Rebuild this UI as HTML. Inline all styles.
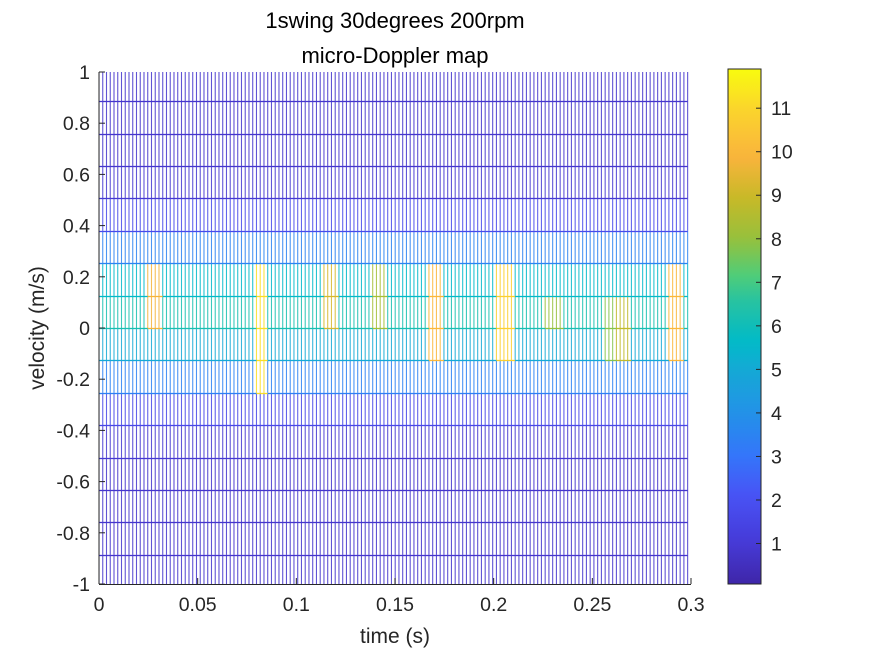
<!DOCTYPE html>
<html><head><meta charset="utf-8"><style>
html,body{margin:0;padding:0;background:#fff;}
svg{display:block;font-family:"Liberation Sans",Arial,sans-serif;}
</style></head><body>
<svg id="chart" width="875" height="656" viewBox="0 0 875 656">
<rect width="875" height="656" fill="#fff"/>
<text x="395" y="28" font-size="22" text-anchor="middle" fill="#000">1swing 30degrees 200rpm</text>
<text x="395" y="63" font-size="22" text-anchor="middle" fill="#000">micro-Doppler map</text>
<g id="mesh"></g>
<g id="axes"></g>
<g id="cbar"></g>
<text x="395" y="643" font-size="21" text-anchor="middle" fill="#262626">time (s)</text>
<text transform="translate(44,328) rotate(-90)" font-size="21" text-anchor="middle" fill="#262626">velocity (m/s)</text>
</svg>
<script>
// ---- data ----
const nTimes = 158;            // number of time samples
const timeStep = 0.0019;       // s
const velStep = 0.1266;        // m/s per bin
const velBins = [-8,-7,-6,-5,-4,-3,-2,-1,0,1,2,3,4,5,6,7,8];
const rowValues = [0.8,0.8,0.8,0.8,0.9,1.6,3.4,5.0,6.2,5.6,3.5,1.7,0.9,0.8,0.8,0.8,0.8];
// bright events: start time, end time, lowest bin, highest bin, value
const evStart = [0.024,0.078,0.113,0.137,0.166,0.200,0.225,0.255,0.262,0.287];
const evEnd   = [0.031,0.085,0.120,0.145,0.173,0.209,0.234,0.261,0.268,0.296];
const evLow   = [0,-2,0,0,-1,-1,0,-1,-1,-1];
const evHigh  = [1,1,1,1,1,1,0,0,0,1];
const evValue = [9.8,11.2,9.2,8.3,10.0,10.8,8.0,7.8,8.8,10.0];
const xTicks = [0,0.05,0.1,0.15,0.2,0.25,0.3];
const xTickLabels = ["0","0.05","0.1","0.15","0.2","0.25","0.3"];
const yTicks = [-1,-0.8,-0.6,-0.4,-0.2,0,0.2,0.4,0.6,0.8,1];
const yTickLabels = ["-1","-0.8","-0.6","-0.4","-0.2","0","0.2","0.4","0.6","0.8","1"];
const cTicks = [1,2,3,4,5,6,7,8,9,10,11];
const cMin = 0.07, cMax = 11.9;

// ---- scales ----
const X0=99, X1=691, Y0=584, Y1=72;
const xs = t => X0 + t/0.3*(X1-X0);
const ys = v => Y0 - (v+1)/2*(Y0-Y1);
const CB = {x:728, w:33, top:69, bot:584};
const cs = c => CB.bot - (c-cMin)/(cMax-cMin)*(CB.bot-CB.top);

const stops=[[0,[62,38,168]],[0.08,[70,58,215]],[0.17,[72,82,245]],[0.25,[52,118,250]],[0.33,[35,145,232]],[0.42,[20,170,212]],[0.47,[0,186,200]],[0.55,[40,195,160]],[0.6,[80,205,120]],[0.67,[150,192,60]],[0.75,[200,185,40]],[0.83,[250,180,60]],[0.92,[250,212,45]],[1,[249,251,14]]];
function parula(v){
  let f=Math.max(0,Math.min(1,(v-cMin)/(cMax-cMin)));
  for(let i=1;i<stops.length;i++){ if(f<=stops[i][0]){const a=stops[i-1],b=stops[i];const u=(f-a[0])/(b[0]-a[0]);
    return 'rgb('+a[1].map((c,j)=>Math.round(c+(b[1][j]-c)*u)).join(',')+')';}}
  return 'rgb(249,251,14)';
}
const NS='http://www.w3.org/2000/svg';
function mk(tag,attrs,parent){const e=document.createElementNS(NS,tag);for(const k in attrs)e.setAttribute(k,attrs[k]);parent.appendChild(e);return e;}

// ---- grid values ----
const Z=[];
for(let i=0;i<nTimes;i++){
  const t=i*timeStep; const col=rowValues.slice();
  for(let e=0;e<evStart.length;e++){
    if(t>=evStart[e]-1e-9 && t<=evEnd[e]+1e-9){
      for(let k=0;k<velBins.length;k++){ if(velBins[k]>=evLow[e]&&velBins[k]<=evHigh[e]) col[k]=Math.max(col[k],evValue[e]); }
    }
  }
  Z.push(col);
}
const mesh=document.getElementById('mesh');
const clip=mk('clipPath',{id:'pc'},mk('defs',{},mesh));
mk('rect',{x:X0,y:Y1,width:X1-X0,height:Y0-Y1},clip);
const mg=mk('g',{'clip-path':'url(#pc)'},mesh);
// vertical segments
for(let i=0;i<nTimes;i++){
  const x=xs(i*timeStep);
  for(let k=0;k<velBins.length-1;k++){
    const l=mk('line',{x1:x,x2:x,y1:ys(velBins[k]*velStep),y2:ys(velBins[k+1]*velStep),stroke:parula(Z[i][k]),'stroke-width':1.1,'stroke-opacity':0.85},mg);
    
    
  }
  const lt=mk('line',{x1:x,x2:x,y1:Y1,y2:ys(velBins[velBins.length-1]*velStep),stroke:parula(rowValues[rowValues.length-1]),'stroke-width':1.1,'stroke-opacity':0.85},mg);
  
  
  const lb=mk('line',{x1:x,x2:x,y1:ys(velBins[0]*velStep),y2:Y0,stroke:parula(rowValues[0]),'stroke-width':1.1,'stroke-opacity':0.85},mg);
  
  
}
// horizontal segments
for(let k=0;k<velBins.length;k++){
  const y=Math.round(ys(velBins[k]*velStep))+0.5;
  for(let i=0;i<nTimes-1;i++){
    const l=mk('line',{x1:xs(i*timeStep),x2:xs((i+1)*timeStep),y1:y,y2:y,stroke:parula(Z[i][k]),'stroke-width':1.3},mg);
    
    
  }
}
// ---- axes ----
const ax=document.getElementById('axes');
const tc='#262626';
let a=mk('line',{x1:X0,x2:X0,y1:Y1,y2:Y0,stroke:tc,'stroke-width':1},ax);


a=mk('line',{x1:X0,x2:X1,y1:Y0+0.5,y2:Y0+0.5,stroke:tc,'stroke-width':1},ax);


xTicks.forEach((t,i)=>{
  const x=xs(t);
  const l=mk('line',{x1:x,x2:x,y1:Y0,y2:Y0-6,stroke:tc},ax);
  
  
  const tx=mk('text',{x:x,y:Y0+27,'font-size':19.5,'text-anchor':'middle',fill:tc},ax);
  tx.textContent=xTickLabels[i];
  
  
});
yTicks.forEach((v,i)=>{
  const y=ys(v);
  const l=mk('line',{x1:X0,x2:X0+6,y1:y,y2:y,stroke:tc},ax);
  
  
  const tx=mk('text',{x:X0-9,y:y+7,'font-size':19.5,'text-anchor':'end',fill:tc},ax);
  tx.textContent=yTickLabels[i];
  
  
});
// ---- colorbar ----
const cb=document.getElementById('cbar');
const grad=mk('linearGradient',{id:'pg',x1:0,y1:1,x2:0,y2:0},mk('defs',{},cb));
for(let s=0;s<=40;s++){const f=s/40;mk('stop',{offset:f,'stop-color':parula(cMin+f*(cMax-cMin))},grad);}
let r=mk('rect',{x:CB.x,y:CB.top,width:CB.w,height:CB.bot-CB.top,fill:'url(#pg)',stroke:tc,'stroke-width':1},cb);


cTicks.forEach(c=>{
  const y=cs(c);
  const l=mk('line',{x1:CB.x+CB.w-5,x2:CB.x+CB.w,y1:y,y2:y,stroke:tc},cb);
  
  
  const tx=mk('text',{x:CB.x+CB.w+10,y:y+7,'font-size':19.5,fill:tc},cb);
  tx.textContent=String(c);
  
  
});
</script>
</body></html>
